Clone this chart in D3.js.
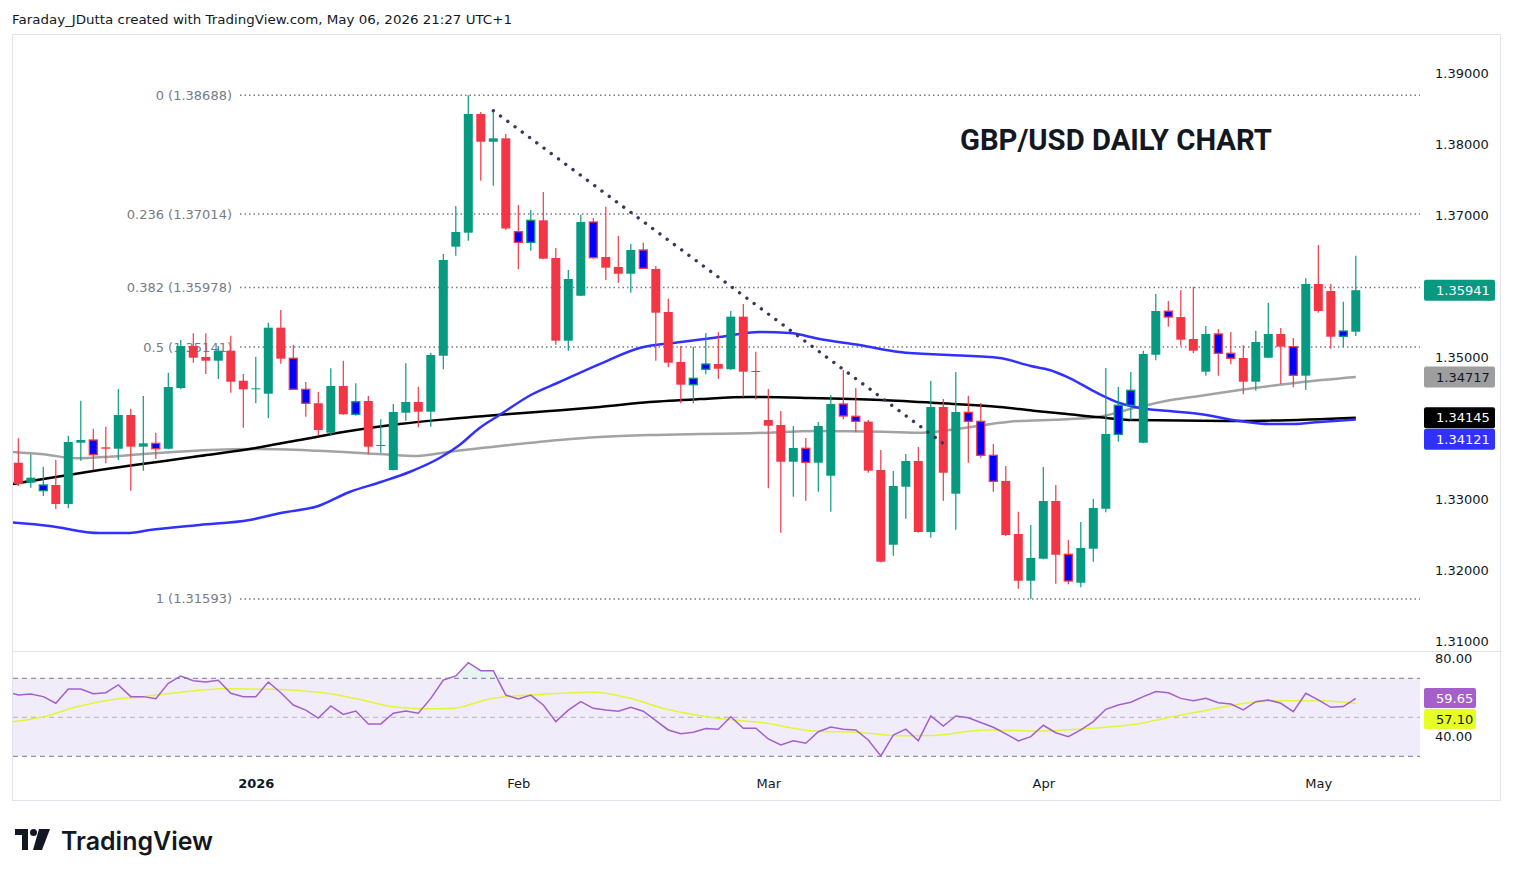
<!DOCTYPE html>
<html>
<head>
<meta charset="utf-8">
<script src="https://cdn.jsdelivr.net/npm/d3@7"></script>
<style>
  body { margin: 0; background: #ffffff; }
  svg { display: block; }
</style>
</head>
<body>
<svg id="chart" width="1514" height="877"></svg>
<script>
// daily GBP/USD candles, Dec 2025 -> May 6 2026 (bar index 0..107)
const openP = [1.33511,1.33229,1.33117,1.33197,1.32930,1.33793,1.33831,1.33728,1.33708,1.34183,
  1.33737,1.33784,1.33708,1.34563,1.35155,1.35000,1.34948,1.35089,1.34666,1.34545,
  1.34483,1.35413,1.34982,1.34545,1.34348,1.33934,1.34592,1.34193,1.34380,1.33746,
  1.33408,1.34215,1.34366,1.34230,1.35018,1.36554,1.36751,1.38423,1.38032,1.38080,
  1.36765,1.36615,1.36925,1.36394,1.35230,1.35863,1.36901,1.36408,1.36268,1.36173,
  1.36507,1.36240,1.35634,1.34930,1.34610,1.34827,1.34901,1.34827,1.35568,1.34803,
  1.34113,1.34042,1.33525,1.33714,1.33511,1.33328,1.34338,1.34165,1.34090,1.33408,
  1.32356,1.33173,1.33535,1.32535,1.34296,1.33075,1.34221,1.34094,1.33615,1.33254,
  1.32507,1.31849,1.32159,1.32972,1.32221,1.31821,1.32300,1.32863,1.33910,1.34320,
  1.33793,1.35032,1.35645,1.35563,1.35254,1.34793,1.35324,1.35052,1.34986,1.34652,
  1.34990,1.35324,1.35145,1.34737,1.36028,1.35930,1.35292,1.35356];
const highP = [1.33855,1.33629,1.33455,1.33549,1.33891,1.34384,1.33990,1.34018,1.34549,1.34272,
  1.34451,1.33934,1.34779,1.35239,1.35334,1.35334,1.35155,1.35300,1.34761,1.35004,
  1.35483,1.35662,1.35169,1.34648,1.34507,1.34841,1.34948,1.34630,1.34451,1.34123,
  1.34338,1.34911,1.34582,1.35061,1.36451,1.37127,1.38688,1.38451,1.38469,1.38141,
  1.37141,1.37070,1.37324,1.36535,1.36225,1.37004,1.36958,1.37117,1.36704,1.36592,
  1.36610,1.36282,1.35821,1.35155,1.35145,1.35338,1.35352,1.35648,1.35746,1.35075,
  1.34549,1.34239,1.34028,1.33859,1.34085,1.34465,1.34817,1.34563,1.34113,1.33690,
  1.33394,1.33634,1.33732,1.34662,1.34408,1.34789,1.34455,1.34352,1.33775,1.33465,
  1.32821,1.32634,1.33451,1.33197,1.32423,1.32676,1.33000,1.34845,1.34577,1.34789,
  1.35089,1.35887,1.35789,1.35944,1.35990,1.35437,1.35390,1.35352,1.35165,1.35370,
  1.35765,1.35408,1.35268,1.36108,1.36577,1.36028,1.35779,1.36427];
const lowP = [1.33183,1.33159,1.33042,1.32859,1.32869,1.33539,1.33408,1.33503,1.33549,1.33117,
  1.33399,1.33563,1.33700,1.34545,1.34920,1.34761,1.34690,1.34497,1.34004,1.34348,
  1.34137,1.34906,1.34540,1.34159,1.33892,1.33892,1.34185,1.34173,1.33629,1.33652,
  1.33400,1.34103,1.34010,1.34018,1.34827,1.36427,1.36638,1.37483,1.37413,1.36789,
  1.36235,1.36497,1.36380,1.35173,1.35089,1.35860,1.36385,1.36085,1.36046,1.35906,
  1.36245,1.34948,1.34855,1.34348,1.34348,1.34756,1.34690,1.34820,1.34441,1.34404,
  1.33151,1.32525,1.33032,1.32976,1.33103,1.32821,1.34123,1.33939,1.33370,1.32110,
  1.32201,1.32723,1.32525,1.32455,1.32976,1.32568,1.33511,1.33582,1.33103,1.32480,
  1.31737,1.31593,1.32150,1.31807,1.31799,1.31756,1.32117,1.32813,1.33807,1.34113,
  1.33785,1.34954,1.35427,1.35159,1.35052,1.34737,1.34737,1.34897,1.34475,1.34525,
  1.34985,1.34620,1.34573,1.34535,1.35624,1.35117,1.35137,1.35296];
const closeP = [1.33211,1.33300,1.33197,1.32930,1.33803,1.33831,1.33624,1.33708,1.34183,1.33737,
  1.33784,1.33708,1.34577,1.35155,1.34990,1.34948,1.35089,1.34652,1.34545,1.34559,
  1.35413,1.34976,1.34545,1.34348,1.33972,1.34592,1.34193,1.34370,1.33737,1.33761,
  1.34225,1.34366,1.34230,1.35028,1.36366,1.36761,1.38423,1.38032,1.38080,1.36810,
  1.36615,1.36925,1.36385,1.35230,1.36099,1.36901,1.36399,1.36258,1.36173,1.36507,
  1.36249,1.35624,1.34920,1.34610,1.34700,1.34901,1.34835,1.35568,1.34793,1.34790,
  1.34032,1.33525,1.33718,1.33517,1.34028,1.34338,1.34169,1.34094,1.33399,1.32117,
  1.33183,1.33535,1.32535,1.34296,1.33370,1.34225,1.34094,1.33615,1.33249,1.32493,
  1.31849,1.32169,1.32972,1.32215,1.31845,1.32310,1.32873,1.33915,1.34320,1.34531,
  1.35042,1.35648,1.35563,1.35244,1.35089,1.35324,1.35052,1.34982,1.34652,1.35211,
  1.35324,1.35145,1.34742,1.36028,1.35648,1.35286,1.35366,1.35941];
// bars painted with a blue body
const blueBars = [2,6,11,22,23,27,40,41,46,50,54,55,63,66,67,76,77,78,84,88,89,92,96,97,102,106];

// moving averages as [bar index, price]
const maBlue = [[-0.5,1.32669],[2.5,1.32620],[6.5,1.32521],[8.9,1.32521],[10.5,1.32563],[14.5,1.32634],
  [18.5,1.32704],[21,1.32803],[24,1.32901],[26.5,1.33099],[29,1.33239],[31.3,1.33380],[33.7,1.33577],
  [35.3,1.33761],[36.9,1.34000],[38.5,1.34183],[41,1.34465],[43.3,1.34648],[46.5,1.34901],[49.7,1.35127],
  [53,1.35211],[56.1,1.35282],[59.3,1.35352],[61.7,1.35338],[64.1,1.35254],[67.3,1.35169],[70.5,1.35070],
  [74.5,1.35028],[78.5,1.34986],[81,1.34873],[82.5,1.34817],[84.1,1.34704],[86.3,1.34493],[88.1,1.34352],
  [89.7,1.34282],[92.1,1.34239],[94.5,1.34197],[97.7,1.34099],[100.1,1.34056],[102,1.34056],
  [104.1,1.34085],[107,1.34121]];
const maBlack = [[-0.5,1.33211],[2.5,1.33296],[6.5,1.33408],[10.5,1.33507],[14.5,1.33606],[18.5,1.33704],
  [22.5,1.33831],[26.5,1.33958],[30.5,1.34056],[34.5,1.34127],[39.3,1.34197],[42.5,1.34239],[46.5,1.34296],
  [50.5,1.34366],[54.5,1.34408],[58.5,1.34437],[63.3,1.34423],[69,1.34394],[73.5,1.34352],[78.5,1.34296],
  [81.2,1.34244],[83.9,1.34197],[86.5,1.34151],[89.2,1.34113],[97.7,1.34099],[107,1.34145]];
const maGray = [[-0.5,1.33662],[2,1.33629],[4.7,1.33573],[7.3,1.33596],[10,1.33634],[12.7,1.33666],
  [15.3,1.33690],[19.3,1.33704],[23.9,1.33680],[29.2,1.33629],[31.9,1.33606],[34.5,1.33666],[39.3,1.33761],
  [43.3,1.33831],[46.5,1.33873],[50.5,1.33901],[54.5,1.33915],[58.5,1.33925],[63.9,1.33958],[69.2,1.33948],
  [72.4,1.33934],[74.5,1.33972],[79.3,1.34089],[83.9,1.34123],[86.5,1.34159],[89.2,1.34277],[91.9,1.34385],
  [94.5,1.34451],[97.7,1.34535],[102.3,1.34638],[107,1.34717]];

// RSI(14) per bar and its moving average
const rsiVals = [61.4,61.9,60.6,57.2,64.5,64.5,62.1,62.6,66.6,60.6,60.6,59.5,67.4,71.2,68.8,68.1,69.0,62.3,60.6,60.6,
  68.1,62.6,56.3,53.7,49.6,55.8,51.5,53.2,46.6,46.6,52.1,53.2,52.1,59.7,69.1,71.2,78.0,73.9,73.9,61.4,
  59.4,61.4,56.3,47.8,53.7,58.0,54.6,53.7,53.1,55.1,53.1,48.3,43.5,41.6,42.3,44.2,43.9,50.3,44.4,44.4,
  38.9,35.8,38.0,36.7,42.6,45.0,43.9,43.5,38.4,30.2,40.9,43.9,38.0,50.7,45.5,50.7,49.8,47.3,44.9,41.5,
  37.9,40.1,45.9,42.1,40.1,43.5,47.8,54.1,56.3,57.7,60.6,63.2,62.6,59.7,58.5,59.7,57.5,56.8,53.8,58.0,
  58.9,57.2,52.9,62.3,58.9,55.1,55.5,59.65];
const rsiEdge = [-0.5, 62.3];   // value where the line enters at the left edge
const rsiMa = [[-0.5,47.7],[2,50.3],[4.7,55.4],[7.3,58.9],[10,60.6],[12.7,62.6],[16.4,64.7],[20.1,64.4],
  [24.7,62.3],[27.3,59.2],[30,55.4],[32.7,54.4],[34.8,54.7],[37.9,59.7],[42.3,61.9],[46,62.8],[48.7,60.1],
  [51.9,54.1],[55.6,49.8],[59.6,47.2],[63.6,43.0],[67.6,42.1],[70.3,40.6],[73,40.7],[77.4,43.5],[81.7,43.0],
  [85.9,44.4],[89.5,46.6],[92.6,50.7],[95.2,53.8],[98.8,57.7],[101.4,58.5],[104.2,58.5],[107,57.1]];

const fibLevels = [0, 0.236, 0.382, 0.5, 1];
const fibPrices = [1.38688, 1.37014, 1.35978, 1.35141, 1.31593];
const trendIdx = [38, 74.5];
const trendPrice = [1.38469, 1.33718];

const priceTicks = [1.31, 1.32, 1.33, 1.34, 1.35, 1.36, 1.37, 1.38, 1.39];
const rsiTicks = [80, 40];
const monthIdx = [19, 40, 60, 82, 104];
const monthLbl = ["2026", "Feb", "Mar", "Apr", "May"];

const svg = d3.select("#chart");
const font = "'DejaVu Sans', Verdana, sans-serif";
const green = "#089981", red = "#f23645";

// layout
const plotLeft = 13, plotRight = 1420;
const priceTop = 35, priceBottom = 650;
const rsiTop = 652, rsiBottom = 765;

const x = d3.scaleLinear().domain([0, 107]).range([18.3, 18.3 + 107 * 12.5]);
const y = d3.scaleLinear().domain([1.31, 1.39]).range([641, 73]);
const yR = d3.scaleLinear().domain([30, 70]).range([756.3, 678.3]);

svg.append("text").attr("x", 12).attr("y", 24)
   .attr("font-family", font).attr("font-size", 13).attr("fill", "#131722")
   .attr("textLength", 500).attr("lengthAdjust", "spacingAndGlyphs")
   .text("Faraday_JDutta created with TradingView.com, May 06, 2026 21:27 UTC+1");

svg.append("rect").attr("x", 12.5).attr("y", 34.5).attr("width", 1488).attr("height", 766)
   .attr("fill", "#ffffff").attr("stroke", "#e0e3eb");
svg.append("line").attr("x1", 12.5).attr("x2", 1500.5).attr("y1", 651.5).attr("y2", 651.5)
   .attr("stroke", "#e0e3eb");

const defs = svg.append("defs");
defs.append("clipPath").attr("id", "priceClip").append("rect")
    .attr("x", plotLeft).attr("y", priceTop).attr("width", plotRight - plotLeft).attr("height", priceBottom - priceTop);
defs.append("clipPath").attr("id", "rsiClip").append("rect")
    .attr("x", plotLeft).attr("y", rsiTop).attr("width", plotRight - plotLeft).attr("height", rsiBottom - rsiTop);

// ---------- price pane ----------
const pricePane = svg.append("g").attr("clip-path", "url(#priceClip)");

// fibonacci retracement
fibLevels.forEach((lvl, k) => {
  pricePane.append("line")
           .attr("x1", 240).attr("x2", plotRight)
           .attr("y1", y(fibPrices[k])).attr("y2", y(fibPrices[k]))
           .attr("stroke", "#787b86").attr("stroke-width", 1.5).attr("stroke-dasharray", "1.5,3");
  pricePane.append("text")
           .attr("x", 232).attr("y", y(fibPrices[k])).attr("dy", "0.35em")
           .attr("text-anchor", "end").attr("font-family", font).attr("font-size", 13)
           .attr("fill", "#787b86")
           .text(`${lvl} (${fibPrices[k].toFixed(5)})`);
});

// moving averages
const maLine = d3.line().x(d => x(d[0])).y(d => y(d[1])).curve(d3.curveMonotoneX);
[[maGray, "#a3a3a3"], [maBlack, "#000000"], [maBlue, "#3131ff"]].forEach(([data, color]) => {
  pricePane.append("path").attr("d", maLine(data))
           .attr("fill", "none").attr("stroke", color).attr("stroke-width", 2.5);
});

// candles
const bars = d3.range(openP.length).map(i => ({
  i, o: openP[i], h: highP[i], l: lowP[i], c: closeP[i], blue: blueBars.includes(i)
}));
const candle = pricePane.selectAll("g.candle").data(bars).join("g").attr("class", "candle");
candle.append("line")
      .attr("x1", d => x(d.i)).attr("x2", d => x(d.i))
      .attr("y1", d => y(d.h)).attr("y2", d => y(d.l))
      .attr("stroke", d => d.c >= d.o ? green : red).attr("stroke-width", 1.2);
candle.append("rect")
      .attr("x", d => x(d.i) - (d.blue ? 4 : 4.5))
      .attr("width", d => d.blue ? 8 : 9)
      .attr("y", d => y(Math.max(d.o, d.c)))
      .attr("height", d => Math.max(1, y(Math.min(d.o, d.c)) - y(Math.max(d.o, d.c))))
      .attr("fill", d => d.blue ? "#0000ff" : (d.c >= d.o ? green : red))
      .attr("stroke", d => d.blue ? (d.c >= d.o ? green : red) : "none")
      .attr("stroke-width", 1.3);

// dotted trend line
pricePane.append("line")
         .attr("x1", x(trendIdx[0])).attr("y1", y(trendPrice[0]))
         .attr("x2", x(trendIdx[1])).attr("y2", y(trendPrice[1]))
         .attr("stroke", "#3a365f").attr("stroke-width", 3.4)
         .attr("stroke-linecap", "round").attr("stroke-dasharray", "0.01,9");

svg.append("text").attr("x", 960).attr("y", 150)
   .attr("font-family", "Roboto, 'Noto Sans', sans-serif").attr("font-weight", "bold")
   .attr("font-size", 30).attr("fill", "#131722")
   .attr("textLength", 312).attr("lengthAdjust", "spacingAndGlyphs")
   .text("GBP/USD DAILY CHART");

// last value labels (stacked so they do not cover each other)
const tags = [
  {v: 1.35941, bg: green, fg: "#ffffff"},
  {v: 1.34717, bg: "#9e9e9e", fg: "#131722"},
  {v: 1.34145, bg: "#000000", fg: "#ffffff"},
  {v: 1.34121, bg: "#3131ff", fg: "#ffffff"}
];
let lastBottom = -Infinity;
tags.forEach(t => {
  t.top = Math.max(y(t.v) - 10.5, lastBottom + 0.5);
  lastBottom = t.top + 21;
});

// price scale: ticks hidden under a value label are left out, as on the chart
const shownTicks = priceTicks.filter(p => !tags.some(t => y(p) > t.top - 6 && y(p) < t.top + 27));
const priceAxis = svg.append("g").attr("transform", "translate(1435,0)")
   .call(d3.axisRight(y).tickValues(shownTicks).tickFormat(d3.format(".5f")).tickSize(0).tickPadding(0));
priceAxis.select(".domain").remove();
priceAxis.selectAll("text").attr("font-family", font).attr("font-size", 13).attr("fill", "#131722");

tags.forEach(t => {
  svg.append("rect").attr("x", 1424).attr("y", t.top).attr("width", 71).attr("height", 21)
     .attr("rx", 2).attr("fill", t.bg);
  svg.append("text").attr("x", 1436).attr("y", t.top + 10.5).attr("dy", "0.35em")
     .attr("font-family", font).attr("font-size", 13).attr("fill", t.fg)
     .text(t.v.toFixed(5));
});

// ---------- RSI pane ----------
const rsiPane = svg.append("g").attr("clip-path", "url(#rsiClip)");
rsiPane.append("rect").attr("x", plotLeft).attr("width", plotRight - plotLeft)
       .attr("y", yR(70)).attr("height", yR(30) - yR(70)).attr("fill", "#f0ecf9");
[[70, "#787b86"], [50, "#b2b5be"], [30, "#787b86"]].forEach(([lv, col]) => {
  rsiPane.append("line").attr("x1", plotLeft).attr("x2", plotRight)
         .attr("y1", yR(lv)).attr("y2", yR(lv))
         .attr("stroke", col).attr("stroke-dasharray", "5,4");
});
const rsiPts = [rsiEdge].concat(rsiVals.map((v, i) => [i, v]));
rsiPane.append("path")
       .attr("d", d3.area().x(d => x(d[0])).y0(yR(70)).y1(d => yR(Math.max(70, d[1])))(rsiPts))
       .attr("fill", green).attr("fill-opacity", 0.1);
rsiPane.append("path")
       .attr("d", d3.line().x(d => x(d[0])).y(d => yR(d[1])).curve(d3.curveMonotoneX)(rsiMa))
       .attr("fill", "none").attr("stroke", "#e3f53a").attr("stroke-width", 1.5);
rsiPane.append("path")
       .attr("d", d3.line().x(d => x(d[0])).y(d => yR(d[1]))(rsiPts))
       .attr("fill", "none").attr("stroke", "#a45fcb").attr("stroke-width", 1.5);

const rsiAxis = svg.append("g").attr("transform", "translate(1435,0)")
   .call(d3.axisRight(yR).tickValues(rsiTicks).tickFormat(d3.format(".2f")).tickSize(0).tickPadding(0));
rsiAxis.select(".domain").remove();
rsiAxis.selectAll("text").attr("font-family", font).attr("font-size", 13).attr("fill", "#131722");

[{v: 59.65, bg: "#a45fcb", fg: "#ffffff", top: 688}, {v: 57.10, bg: "#e6ff29", fg: "#131722", top: 709}]
  .forEach(t => {
    svg.append("rect").attr("x", 1424).attr("y", t.top).attr("width", 52).attr("height", 20)
       .attr("rx", 2).attr("fill", t.bg);
    svg.append("text").attr("x", 1436).attr("y", t.top + 10).attr("dy", "0.35em")
       .attr("font-family", font).attr("font-size", 13).attr("fill", t.fg).text(t.v.toFixed(2));
  });

// ---------- time axis ----------
const timeAxis = svg.append("g").attr("transform", "translate(0,775)")
   .call(d3.axisBottom(x).tickValues(monthIdx).tickFormat((d, k) => monthLbl[k]).tickSize(0).tickPadding(4));
timeAxis.select(".domain").remove();
timeAxis.selectAll("text").attr("font-family", font).attr("font-size", 13).attr("fill", "#131722")
        .attr("font-weight", (d, k) => k === 0 ? "bold" : "normal");

// ---------- TradingView logo ----------
const logo = svg.append("g").attr("transform", "translate(15,828)");
logo.append("path").attr("d", "M0,1 H13 V22 H7 V7 H0 Z").attr("fill", "#131722");
logo.append("circle").attr("cx", 18.5).attr("cy", 4.5).attr("r", 3.5).attr("fill", "#131722");
logo.append("path").attr("d", "M24,1 H35 L27,22 H18 Z").attr("fill", "#131722");
svg.append("text").attr("x", 61).attr("y", 850)
   .attr("font-family", "Inter, Roboto, sans-serif").attr("font-weight", 600).attr("font-size", 25)
   .attr("fill", "#131722").attr("textLength", 152).attr("lengthAdjust", "spacingAndGlyphs")
   .text("TradingView");
</script>
</body>
</html>
